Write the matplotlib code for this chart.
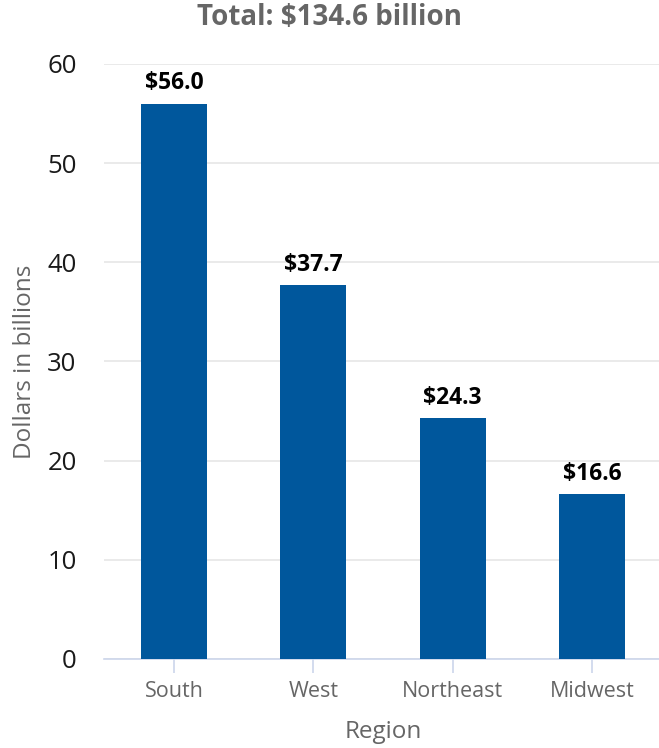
import matplotlib.pyplot as plt

plt.rcParams['font.family'] = ['Open Sans', 'DejaVu Sans']

regions = ['South', 'West', 'Northeast', 'Midwest']
values = [56.0, 37.7, 24.3, 16.6]
labels = ['$56.0', '$37.7', '$24.3', '$16.6']

fig = plt.figure(figsize=(6.59, 7.48), dpi=100)
ax = fig.add_axes([0.1585, 0.119, 0.8455, 0.7955])

x = range(len(regions))
bars = ax.bar(x, values, width=0.475, color='#00579c', zorder=3)

for i, v in enumerate(values):
    ax.annotate(labels[i], (i, v), xytext=(0, 6), textcoords='offset points',
                ha='center', va='bottom', fontsize=16.5, fontweight='bold', color='black')

ax.set_xlim(-0.5, 3.5)
ax.set_ylim(0, 60)
ax.set_yticks(range(0, 61, 10))
ax.grid(axis='y', color='#e6e6e6', lw=1.2, zorder=0)
for s in ['top', 'right', 'left']:
    ax.spines[s].set_visible(False)
ax.spines['bottom'].set_color('#ccd6eb')
ax.spines['bottom'].set_linewidth(1.2)

ax.set_xticks(list(x))
ax.set_xticklabels(regions)
ax.tick_params(axis='x', colors='#ccd6eb', length=10, width=1.2, pad=6, labelsize=15.5, labelcolor='#666666')
ax.tick_params(axis='y', length=0, pad=20, labelsize=18.5, labelcolor='#1a1a1a')

ax.set_xlabel('Region', fontsize=17.5, color='#666666', labelpad=13)
ax.set_ylabel('Dollars in billions', fontsize=17.5, color='#666666', labelpad=7)
fig.text(0.5, 0.976, 'Total: $134.6 billion', ha='center', va='center',
         fontsize=20, fontweight='bold', color='#666666')

fig.savefig('out.png', dpi=100)
